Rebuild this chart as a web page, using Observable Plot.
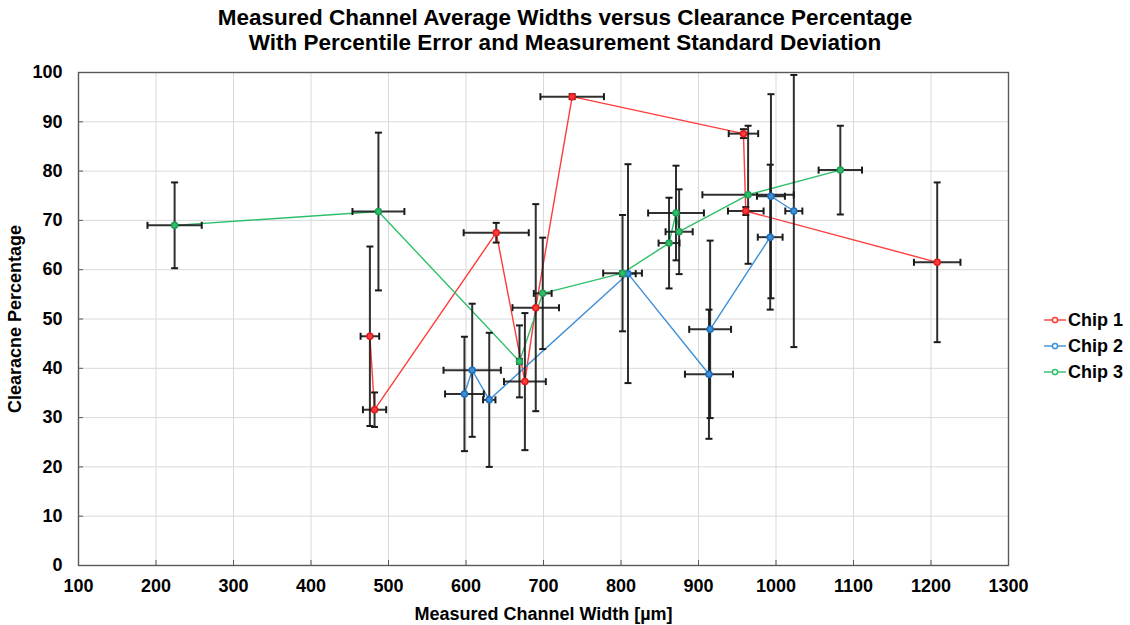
<!DOCTYPE html>
<html>
<head>
<meta charset="utf-8">
<script src="https://cdn.jsdelivr.net/npm/d3@7"></script>
<script src="https://cdn.jsdelivr.net/npm/@observablehq/plot@0.6"></script>
<style>
  body { margin: 0; background: #fff; font-family: "Liberation Sans", Arial, sans-serif; }
  #wrap { position: relative; width: 1130px; height: 625px; }
  #title { position: absolute; left: 0; top: 5px; width: 1130px; text-align: center; font-weight: bold; font-size: 22.5px; line-height: 25px; color: #000; }
  #chart { position: absolute; left: 0; top: 60px; }
  #legend { position: absolute; left: 1044px; top: 307px; font-weight: bold; font-size: 18px; color: #000; }
  .item { height: 26px; display: flex; align-items: center; }
  .item svg { margin-right: 2px; }
</style>
</head>
<body>
<div id="wrap">
  <div id="title">Measured Channel Average Widths versus Clearance Percentage<br>With Percentile Error and Measurement Standard Deviation</div>
  <div id="chart"></div>
  <div id="legend"></div>
</div>
<script>
// ---- data ----
const seriesNames = ["Chip 1", "Chip 2", "Chip 3"];
const seriesColors = ["#ff3b3b", "#3d8fd6", "#2fbf6a"];
const markerColors = ["#e31a1a", "#1f6fbf", "#1e9e55"];

const chip1X    = [476, 482, 639, 676, 690, 737, 958, 961, 1208];
const chip1Y    = [46.5, 31.6, 67.5, 37.3, 52.3, 95.1, 87.6, 71.9, 61.5];
const chip1XErr = [12, 15, 42, 27, 30, 41, 19, 23, 30];
const chip1YErr = [18.2, 3.5, 2.0, 13.9, 21.0, 0.5, 0.9, 0.8, 16.2];

const chip2X    = [598, 608, 630, 809, 913.5, 915, 992.5, 993.5, 1023];
const chip2Y    = [34.8, 39.6, 33.6, 59.2, 38.8, 47.9, 66.6, 74.9, 71.9];
const chip2XErr = [25, 37, 8, 10, 31, 27, 16, 18, 11];
const chip2YErr = [11.6, 13.5, 13.6, 22.2, 13.1, 18.0, 14.7, 20.7, 27.6];

const chip3X    = [224, 487, 669, 699, 802, 862, 871, 875, 964, 1083];
const chip3Y    = [69.0, 71.8, 41.4, 55.2, 59.3, 65.4, 71.5, 67.7, 75.2, 80.2];
const chip3XErr = [35, 33.5, 3, 11.5, 25, 13.5, 36, 17.5, 59, 28];
const chip3YErr = [8.7, 16, 7.3, 11.3, 11.8, 9.2, 9.6, 8.6, 14, 9];

const xTicks = [100, 200, 300, 400, 500, 600, 700, 800, 900, 1000, 1100, 1200, 1300];
const yTicks = [0, 10, 20, 30, 40, 50, 60, 70, 80, 90, 100];
const xLabel = "Measured Channel Width [µm]";
const yLabel = "Clearacne Percentage";

// ---- build tables ----
function rows(xs, ys, exs, eys, s) {
  return xs.map((x, i) => ({x, y: ys[i], ex: exs[i], ey: eys[i], series: s}));
}
const data = [
  rows(chip1X, chip1Y, chip1XErr, chip1YErr, 0),
  rows(chip2X, chip2Y, chip2XErr, chip2YErr, 1),
  rows(chip3X, chip3Y, chip3XErr, chip3YErr, 2)
];
const all = data.flat();

const capH = {draw(ctx) { ctx.moveTo(-3.5, 0); ctx.lineTo(3.5, 0); }};
const capV = {draw(ctx) { ctx.moveTo(0, -3.5); ctx.lineTo(0, 3.5); }};
const errStroke = "#1a1a1a";

const marks = [
  Plot.gridX(xTicks, {stroke: "#d9d9d9", strokeOpacity: 1, strokeWidth: 1}),
  Plot.gridY(yTicks, {stroke: "#d9d9d9", strokeOpacity: 1, strokeWidth: 1}),
  Plot.axisX(xTicks, {tickSize: -5, tickPadding: 19, stroke: "#595959", fontSize: 18, fontWeight: "bold",
    tickFormat: d => String(d),
    label: xLabel, labelAnchor: "center", labelArrow: "none", labelOffset: 54}),
  Plot.axisY(yTicks, {tickSize: -5, tickPadding: 21, stroke: "#595959", fontSize: 18, fontWeight: "bold",
    tickFormat: d => String(d),
    label: yLabel, labelAnchor: "center", labelArrow: "none", labelOffset: 70}),
  Plot.frame({stroke: "#595959", strokeWidth: 1.4})
];
data.forEach((d, i) => {
  marks.push(Plot.line(d, {x: "x", y: "y", stroke: seriesColors[i], strokeWidth: 1.4}));
});
marks.push(
  Plot.link(all, {x1: d => d.x - d.ex, x2: d => d.x + d.ex, y1: "y", y2: "y", stroke: errStroke, strokeWidth: 2, strokeOpacity: 0.9}),
  Plot.link(all, {x1: "x", x2: "x", y1: d => d.y - d.ey, y2: d => d.y + d.ey, stroke: errStroke, strokeWidth: 2, strokeOpacity: 0.9}),
  Plot.dot(all, {x: d => d.x - d.ex, y: "y", symbol: capV, r: 3, fill: "none", stroke: errStroke, strokeWidth: 2}),
  Plot.dot(all, {x: d => d.x + d.ex, y: "y", symbol: capV, r: 3, fill: "none", stroke: errStroke, strokeWidth: 2}),
  Plot.dot(all, {x: "x", y: d => d.y - d.ey, symbol: capH, r: 3, fill: "none", stroke: errStroke, strokeWidth: 2}),
  Plot.dot(all, {x: "x", y: d => d.y + d.ey, symbol: capH, r: 3, fill: "none", stroke: errStroke, strokeWidth: 2})
);
data.forEach((d, i) => {
  marks.push(Plot.dot(d, {x: "x", y: "y", r: 3, fill: seriesColors[i], stroke: markerColors[i], strokeWidth: 1.5}));
});

const chart = Plot.plot({
  width: 1130,
  height: 565,
  marginTop: 12,
  marginLeft: 78,
  marginRight: 122,
  marginBottom: 60,
  x: {domain: [100, 1300]},
  y: {domain: [0, 100]},
  style: {fontFamily: "'Liberation Sans', Arial, sans-serif", fontSize: "18px", fontWeight: "bold", color: "#000", background: "#fff"},
  marks
});
document.getElementById("chart").appendChild(chart);

// legend
const legend = document.getElementById("legend");
seriesNames.forEach((name, i) => {
  const item = document.createElement("div");
  item.className = "item";
  item.innerHTML = `<svg width="22" height="10"><line x1="0" y1="5" x2="22" y2="5" stroke="${seriesColors[i]}" stroke-width="1.4"/><circle cx="11" cy="5" r="2.6" fill="#fff" stroke="${seriesColors[i]}" stroke-width="1.5"/></svg><span>${name}</span>`;
  legend.appendChild(item);
});
</script>
</body>
</html>
